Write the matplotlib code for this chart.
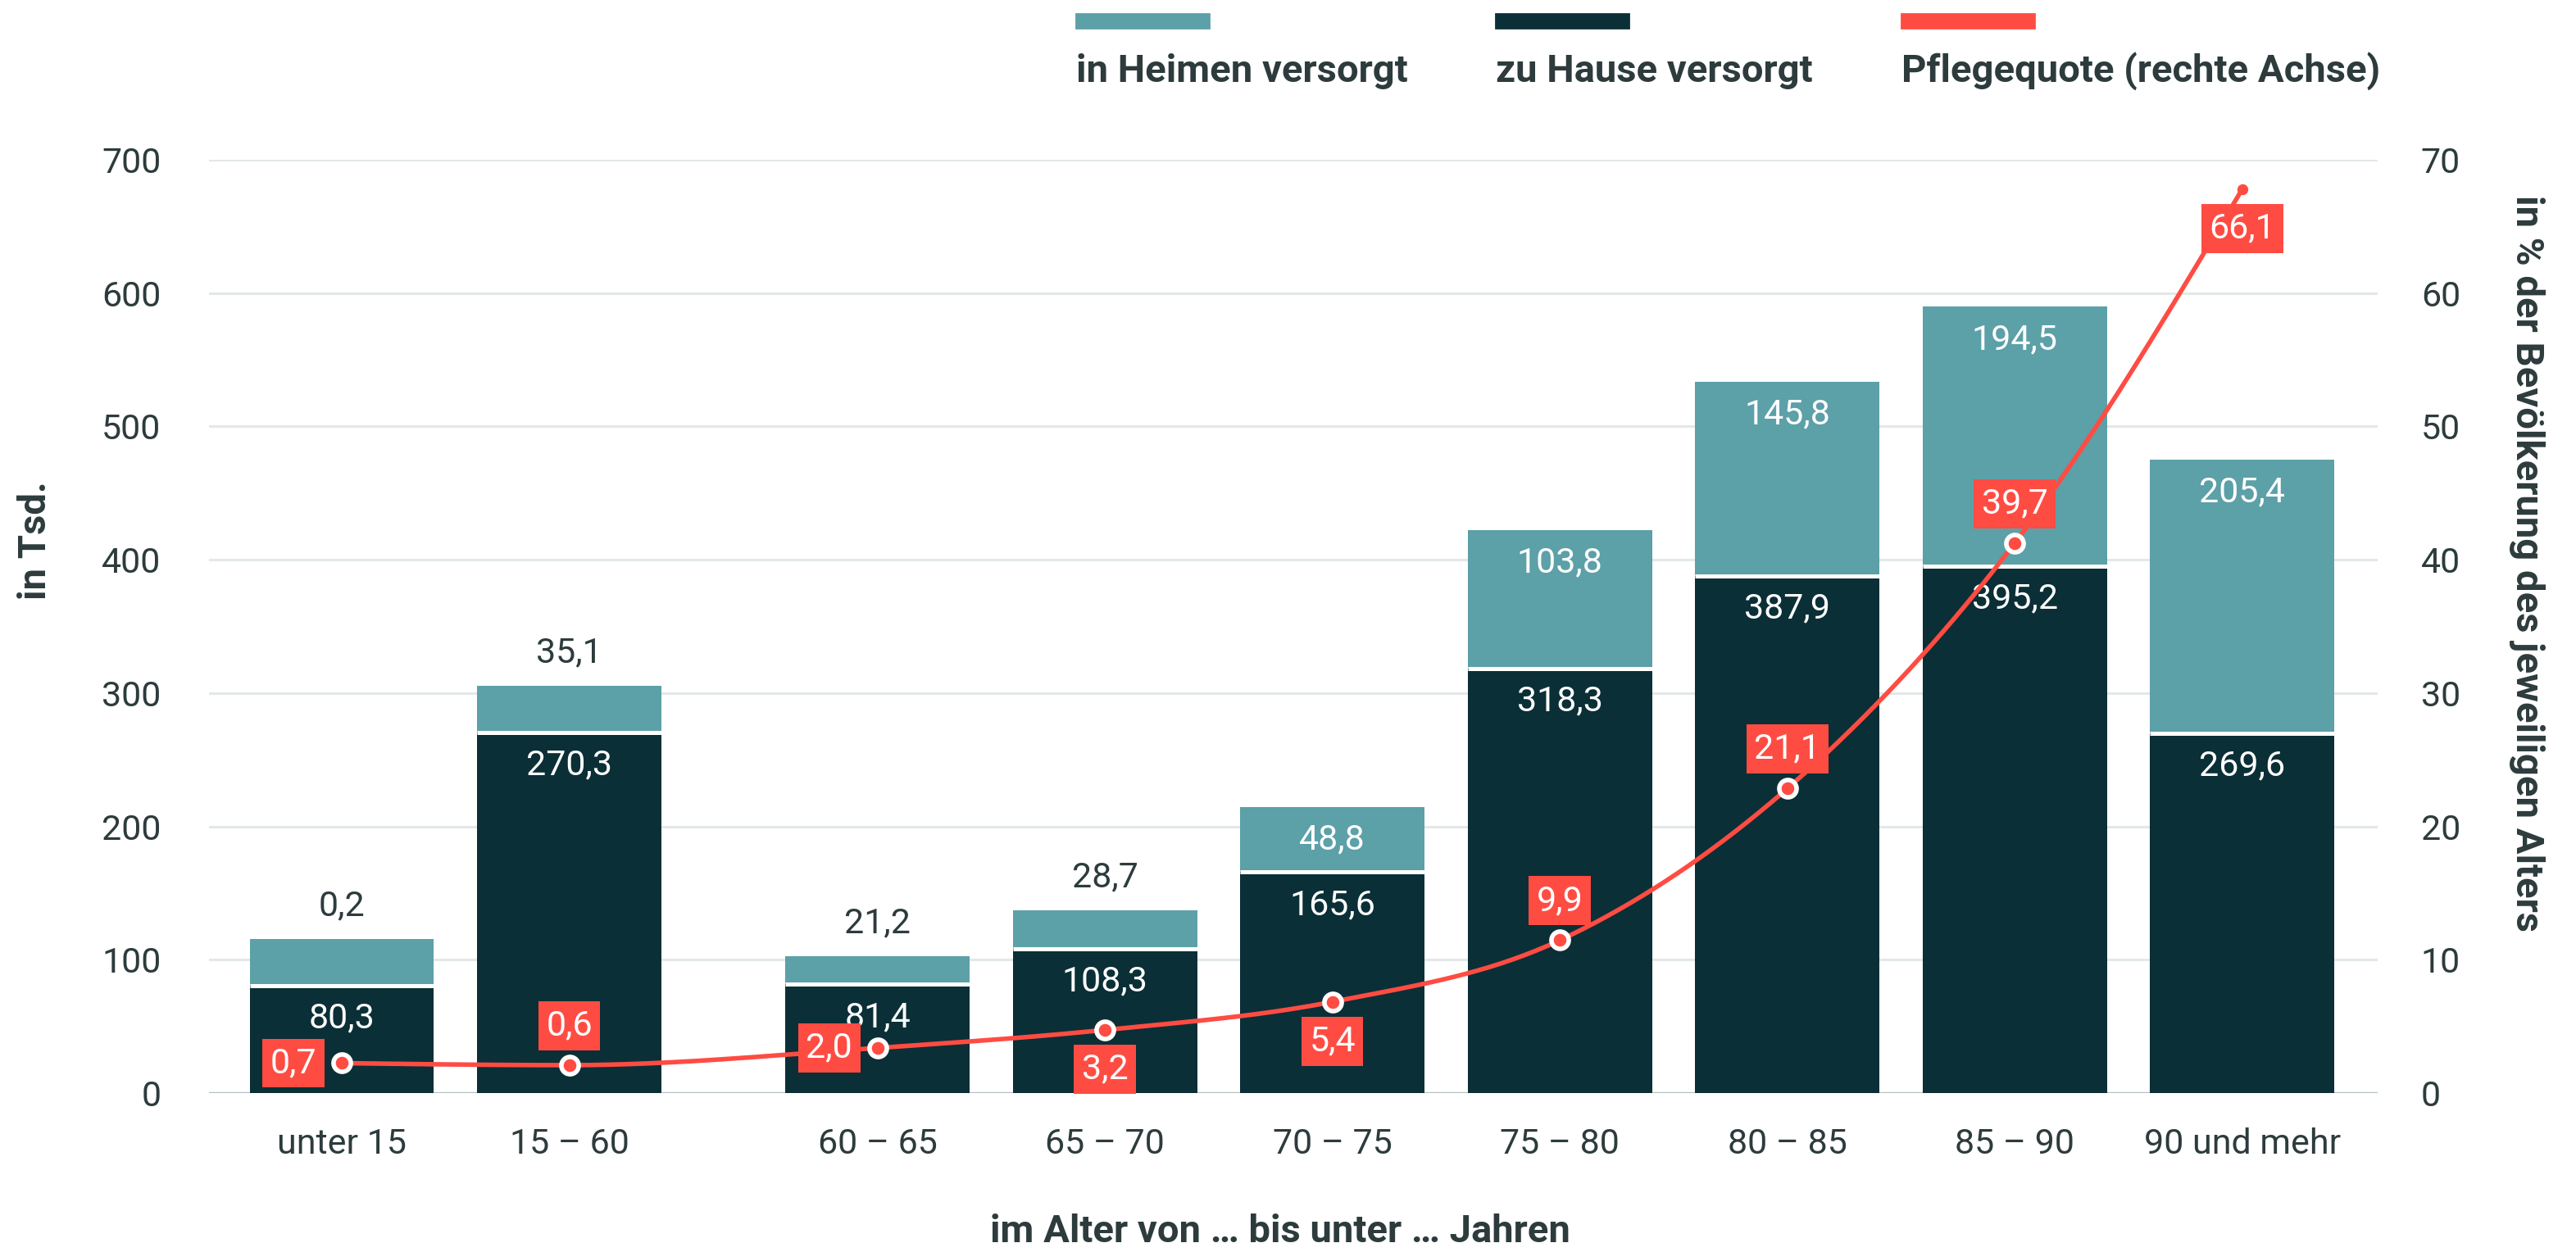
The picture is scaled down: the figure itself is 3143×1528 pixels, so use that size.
import numpy as np
import matplotlib.pyplot as plt
from matplotlib.patches import Rectangle

plt.rcParams['font.family'] = ['Roboto', 'DejaVu Sans']

# data
alter = ["unter 15", "15 – 60", "60 – 65", "65 – 70", "70 – 75",
         "75 – 80", "80 – 85", "85 – 90", "90 und mehr"]
zu_hause = [80.3, 270.3, 81.4, 108.3, 165.6, 318.3, 387.9, 395.2, 269.6]
# heights as drawn (first bar is drawn taller than its label says)
in_heimen = [35.5, 35.1, 21.2, 28.7, 48.8, 103.8, 145.8, 194.5, 205.4]
in_heimen_lbl = [0.2, 35.1, 21.2, 28.7, 48.8, 103.8, 145.8, 194.5, 205.4]
# line points as drawn, and the printed quota
quote = [2.24, 2.09, 3.38, 4.73, 6.84, 11.46, 22.84, 41.26, 67.8]
quote_lbl = [0.7, 0.6, 2.0, 3.2, 5.4, 9.9, 21.1, 39.7, 66.1]

DARK = '#0b2f36'
LIGHT = '#5ca0a8'
RED = '#ff4c43'
TXT = '#2d3b3c'
FS = 15.5
FSB = 17


def fmt(v):
    return f"{v:.1f}".replace('.', ',')


def monotone(x, y, n=40):
    # monotone cubic (like d3 curveMonotoneX), only for drawing the line
    x = np.asarray(x, float)
    y = np.asarray(y, float)
    h = np.diff(x)
    s = np.diff(y) / h
    m = np.zeros_like(y)
    for k in range(1, len(y) - 1):
        p = (s[k-1] * h[k] + s[k] * h[k-1]) / (h[k-1] + h[k])
        m[k] = (np.sign(s[k-1]) + np.sign(s[k])) * min(abs(s[k-1]), abs(s[k]), 0.5 * abs(p))
    m[0] = (3 * s[0] - m[1]) / 2
    m[-1] = (3 * s[-1] - m[-2]) / 2
    xs, ys = [], []
    for k in range(len(h)):
        t = np.linspace(0, 1, n)
        h00 = 2*t**3 - 3*t**2 + 1
        h10 = t**3 - 2*t**2 + t
        h01 = -2*t**3 + 3*t**2
        h11 = t**3 - t**2
        xs.append(x[k] + t * h[k])
        ys.append(h00*y[k] + h10*h[k]*m[k] + h01*y[k+1] + h11*h[k]*m[k+1])
    return np.concatenate(xs), np.concatenate(ys)


x = np.arange(len(alter), dtype=float)
x[2:] += 0.355  # gap after "15 - 60"
w = 0.81

fig = plt.figure(figsize=(15.715, 7.64), dpi=200)
ax = fig.add_axes([0.0811, 0.1270, 0.923 - 0.0811, 0.8724 - 0.1270])
ax2 = ax.twinx()

ax.bar(x, zu_hause, width=w, color=DARK, zorder=2)
ax.bar(x, in_heimen, width=w, bottom=zu_hause, color=LIGHT, zorder=2)
ax.hlines(zu_hause, x - w/2, x + w/2, color='white', lw=1.8, zorder=2.5)

ax.set_xlim(-0.584, x[-1] + 0.595)
ax.set_ylim(0, 700)
ax2.set_ylim(0, 70)
ax.set_yticks(range(0, 701, 100))
ax2.set_yticks(range(0, 71, 10))
ax.set_xticks(x)
ax.set_xticklabels(alter)

for a in (ax, ax2):
    for sp in a.spines.values():
        sp.set_visible(False)
    a.tick_params(length=0, labelsize=FS, colors=TXT)
ax.tick_params(axis='y', pad=21)
ax2.tick_params(axis='y', pad=19)
ax.tick_params(axis='x', pad=15)
ax.yaxis.grid(True, color='#e3e8e8', lw=1.1)
ax.set_axisbelow(True)
ax.axhline(0, color='#b4c2c2', lw=1.2, zorder=1.5)

# value labels
for i in range(len(alter)):
    ax.annotate(fmt(zu_hause[i]), (x[i], zu_hause[i]), xytext=(0, -14.4),
                textcoords='offset points', ha='center', va='center',
                color='white', fontsize=FS, zorder=5)
    top = zu_hause[i] + in_heimen[i]
    if in_heimen[i] < 40:
        ax.annotate(fmt(in_heimen_lbl[i]), (x[i], top), xytext=(0, 14.4),
                    textcoords='offset points', ha='center', va='center',
                    color=TXT, fontsize=FS, zorder=5)
    else:
        ax.annotate(fmt(in_heimen_lbl[i]), (x[i], top), xytext=(0, -14.4),
                    textcoords='offset points', ha='center', va='center',
                    color='white', fontsize=FS, zorder=5)

# Pflegequote line
lx, ly = monotone(x, quote)
ax2.plot(lx, ly, color=RED, lw=2.0, zorder=3)
ax2.plot(x[:-1], quote[:-1], 'o', ms=7.6, mfc=RED, mec='white', mew=2.0, zorder=4)
ax2.plot(x[-1:], quote[-1:], 'o', ms=3.8, color=RED, zorder=4)

where = ['left', 'above', 'left', 'below', 'below', 'above', 'above', 'above', 'below']
offs = {'left': (-21.2, 0), 'above': (0, 17.3), 'below': (0, -17.3)}
for i, q in enumerate(quote_lbl):
    ax2.annotate(fmt(q), (x[i], quote[i]), xytext=offs[where[i]],
                 textcoords='offset points', ha='center', va='center',
                 color='white', fontsize=FS, zorder=6,
                 bbox=dict(boxstyle='square,pad=0.22', fc=RED, ec='none'))

# axis titles
fig.text(43/3143, 1 - 660/1528, "in Tsd.", rotation=90, ha='center', va='center',
         fontsize=FSB, fontweight='bold', color=TXT)
fig.text(3083/3143, 1 - 688/1528, "in % der Bevölkerung des jeweiligen Alters",
         rotation=270, ha='center', va='center', fontsize=FSB, fontweight='bold', color=TXT)
fig.text(1562/3143, 1 - 1503/1528, "im Alter von … bis unter … Jahren",
         ha='center', va='center', fontsize=FSB, fontweight='bold', color=TXT)

# legend on top
leg = [("in Heimen versorgt", LIGHT, 1313), ("zu Hause versorgt", DARK, 1825),
       ("Pflegequote (rechte Achse)", RED, 2320)]
for name, col, px in leg:
    fig.patches.append(Rectangle((px/3143, 1 - 34/1528), 162/3143, 17/1528,
                                 transform=fig.transFigure, color=col))
    fig.text(px/3143, 1 - 100/1528, name, ha='left', va='baseline',
             fontsize=FSB, fontweight='bold', color=TXT)

fig.savefig('out.png', dpi=200)
